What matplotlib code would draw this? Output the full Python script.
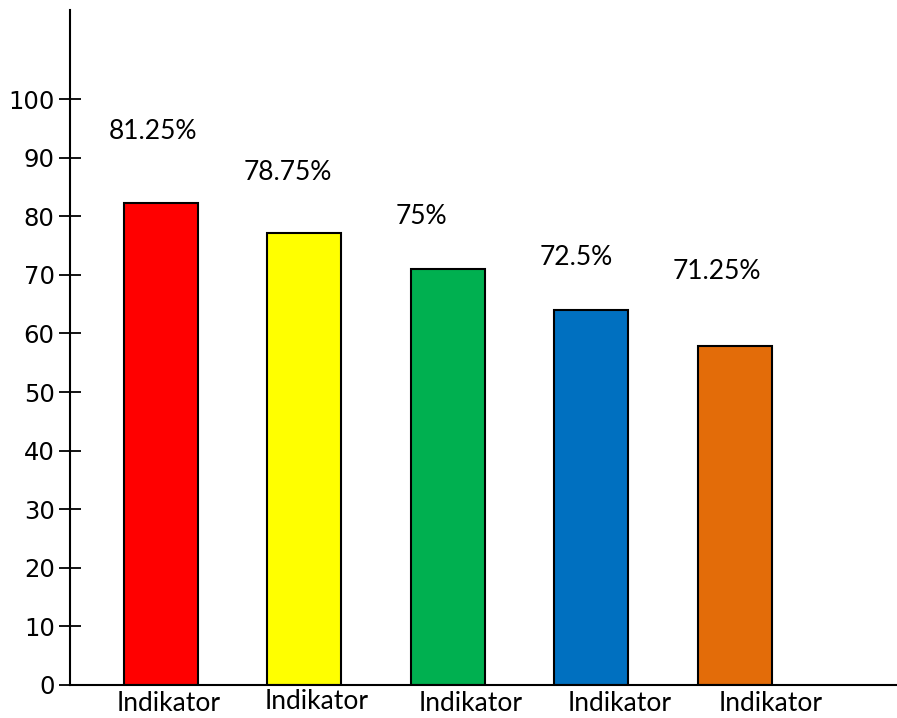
import matplotlib
matplotlib.use("Agg")
import matplotlib.pyplot as plt

# data
categories = ["Indikator", "Indikator", "Indikator", "Indikator", "Indikator"]
bar_heights = [82.3, 77.1, 71.0, 64.0, 57.8]
value_labels = ["81.25%", "78.75%", "75%", "72.5%", "71.25%"]
y_ticks = [0, 10, 20, 30, 40, 50, 60, 70, 80, 90, 100]

# styles
colors = ["#FF0000", "#FFFF00", "#00B050", "#0070C0", "#E36C09"]
label_dx = [-0.056, -0.115, -0.188, -0.108, -0.125]
label_dy = [12.1, 10.3, 9.0, 8.9, 12.7]
cat_dx = [0.05, 0.087, 0.16, 0.2, 0.25]
cat_dy = [-4.5, -4.15, -4.5, -4.5, -4.5]

fig = plt.figure(figsize=(8.97, 7.18), dpi=100)
ax = fig.add_axes([70/897, 33/718, 827/897, 675/718])

x = list(range(len(bar_heights)))
ax.bar(x, bar_heights, width=0.515, color=colors, edgecolor="black", linewidth=1.5)

for i, (h, lab) in enumerate(zip(bar_heights, value_labels)):
    ax.text(i + label_dx[i], h + label_dy[i], lab, ha="center", va="center",
            fontsize=19, family="Lato", color="black")

for i, c in enumerate(categories):
    ax.text(i + cat_dx[i], cat_dy[i], c, ha="center", va="baseline",
            fontsize=19, family="Lato", color="black", clip_on=False)

ax.set_xlim(-0.634, 5.13)
ax.set_ylim(0, 115.2)
ax.set_yticks(y_ticks)
ax.set_yticklabels([str(t) for t in y_ticks], fontsize=17.5, family="DejaVu Sans")
ax.set_xticks([])
ax.tick_params(axis="y", direction="inout", length=16, width=1.3, pad=3)
for s in ["top", "right"]:
    ax.spines[s].set_visible(False)
for s in ["left", "bottom"]:
    ax.spines[s].set_linewidth(1.5)

fig.savefig("out.png", dpi=100)
